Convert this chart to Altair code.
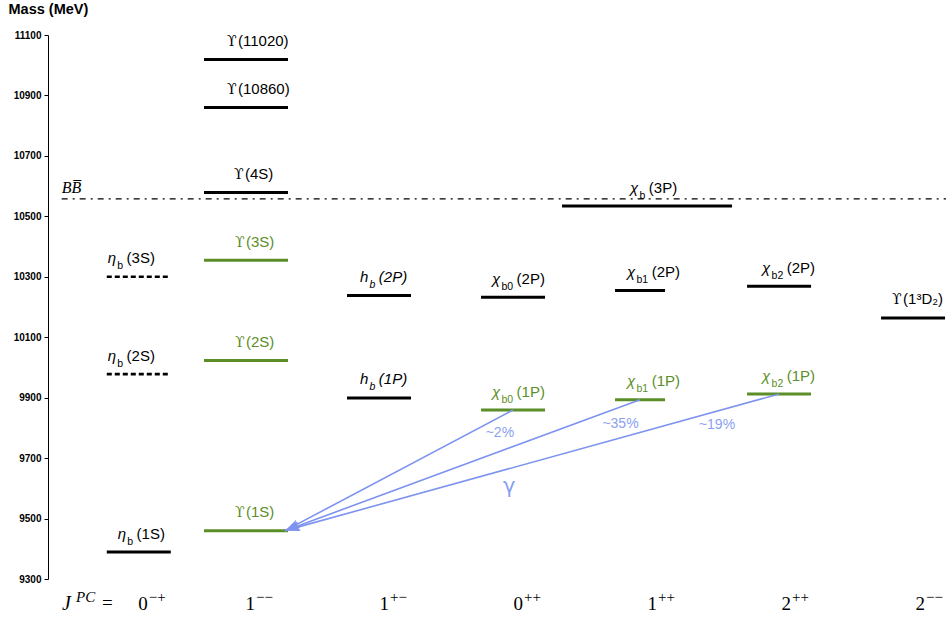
import math

import altair as alt
import pandas as pd

# ---------------------------------------------------------------- data
# Bottomonium levels: symbol, subscript, state tag, J^PC column, mass (MeV), kind
level_symbol = ["η", "η", "η", "ϒ", "ϒ", "ϒ", "ϒ", "ϒ", "ϒ",
                "h", "h", "χ", "χ", "χ", "χ", "χ", "χ", "χ", "ϒ"]
level_sub = ["b", "b", "b", "", "", "", "", "", "",
             "b", "b", "b0", "b0", "b1", "b1", "b2", "b2", "b", ""]
level_tag = ["(1S)", "(2S)", "(3S)", "(1S)", "(2S)", "(3S)", "(4S)", "(10860)", "(11020)",
             "(1P)", "(2P)", "(1P)", "(2P)", "(1P)", "(2P)", "(1P)", "(2P)", "(3P)", "(1³D₂)"]
level_column = [0, 0, 0, 1, 1, 1, 1, 1, 1,
                2, 2, 3, 3, 4, 4, 5, 5, 4, 6]
level_mass = [9389, 9978, 10300, 9460, 10023, 10355, 10579, 10860, 11019,
              9899, 10238, 9859, 10232, 9893, 10255, 9912, 10269, 10534, 10164]
level_kind = ["observed", "predicted", "predicted", "radiative", "radiative", "radiative",
              "observed", "observed", "observed", "observed", "observed",
              "radiative", "observed", "radiative", "observed", "radiative", "observed",
              "observed", "observed"]

# J^PC columns along the bottom
jpc_digit = ["0", "1", "1", "0", "1", "2", "2"]
jpc_sign = ["−+", "−−", "+−", "++", "++", "++", "−−"]
jpc_position = [0.2, 1, 2, 3, 4, 5, 6]

# E1 photon transitions chi_bJ(1P) -> Upsilon(1S) gamma
transition_from = ["χb0(1P)", "χb1(1P)", "χb2(1P)"]
transition_to = "ϒ(1S)"
transition_fraction = ["~2%", "~35%", "~19%"]
fraction_x = [2.79, 3.69, 4.41]
fraction_mass = [9783, 9813, 9810]
photon_label = "γ"
photon_x = 2.86
photon_mass = 9604

# B Bbar open-flavour threshold
threshold_mass = 10558
threshold_label = "BB\u0305"
threshold_start = -0.48

# ---------------------------------------------------------------- layout / style
W, H = 898, 544
X_DOMAIN = [-0.582, 6.119]
Y_DOMAIN = [9300, 11100]
PX_PER_COL = W / (X_DOMAIN[1] - X_DOMAIN[0])
PX_PER_MEV = H / (Y_DOMAIN[1] - Y_DOMAIN[0])

GREEN = "#5b8e27"
ARROW = "#7d93ef"
ARROW_TEXT = "#8b9ff0"
SANS = "Liberation Sans"
SERIF = "Liberation Serif"
GREEK = "DejaVu Serif"

# bar width and horizontal shift of the bars in each J^PC column (px)
COL_WIDTH_PX = [64, 84, 64, 64, 50, 64, 64]
COL_SHIFT_PX = [-14, -14, -15, -15, -22, -17, -17]
WIDE_BAR = {"χb(3P)": (170, -15)}

# label start measured from the left end of its bar (px)
LABEL_INSET_PX = {"η": 1, "h": 13, "χ": 12, "ϒ": 31}
LABEL_INSET_OVERRIDE = {"ηb(1S)": 11, "ϒ(10860)": 23, "ϒ(11020)": 23, "ϒ(4S)": 30,
                        "χb0(1P)": 11, "χb0(2P)": 11, "χb2(1P)": 15, "χb2(2P)": 15,
                        "χb(3P)": 68, "ϒ(1³D₂)": 11}


def px(v):
    return v / PX_PER_COL


rows = []
for sym, sub, tag, col, mass, kind in zip(level_symbol, level_sub, level_tag,
                                          level_column, level_mass, level_kind):
    name = sym + sub + tag
    width, shift = WIDE_BAR.get(name, (COL_WIDTH_PX[col], COL_SHIFT_PX[col]))
    center = jpc_position[col] + px(shift)
    rows.append(dict(name=name, sym=sym, sub=sub, tag=tag, kind=kind, mass=mass,
                     x=center - px(width) / 2, x_end=center + px(width) / 2, xc=center))
levels = pd.DataFrame(rows)

# label pieces: symbol, subscript, state tag
parts = []
for r in rows:
    inset = LABEL_INSET_OVERRIDE.get(r["name"], LABEL_INSET_PX[r["sym"]])
    x0 = r["x"] + px(inset)
    if r["sym"] == "ϒ":
        parts.append(dict(x=x0, mass=r["mass"], text=r["sym"], part="upsilon", kind=r["kind"]))
        parts.append(dict(x=x0 + px(11), mass=r["mass"], text=r["tag"], part="tag_upright",
                          kind=r["kind"]))
        continue
    style = "italic" if r["sym"] == "h" else "upright"
    sub_w = 9.5
    parts.append(dict(x=x0, mass=r["mass"], text=r["sym"], part="sym", kind=r["kind"]))
    parts.append(dict(x=x0 + px(sub_w), mass=r["mass"], text=r["sub"],
                      part="sub_" + style, kind=r["kind"]))
    parts.append(dict(x=x0 + px(sub_w + 5.8 * len(r["sub"]) + 3.5), mass=r["mass"],
                      text=r["tag"], part="tag_" + style, kind=r["kind"]))
labels = pd.DataFrame(parts)

by_name = levels.set_index("name")
target = by_name.loc[transition_to]
arrows = []
for src in transition_from:
    s = by_name.loc[src]
    x_tip = target["x_end"] - px(3)
    dx = (x_tip - s["xc"]) * PX_PER_COL
    dy = -(target["mass"] - s["mass"]) * PX_PER_MEV
    angle = math.degrees(math.atan2(dx, -dy)) % 360
    arrows.append(dict(x=s["xc"], mass=s["mass"], x_end=x_tip, mass_end=target["mass"], angle=angle))
arrows = pd.DataFrame(arrows)
heads = arrows.assign(x=arrows["x_end"], mass=arrows["mass_end"])

fractions = pd.DataFrame(dict(x=fraction_x, mass=fraction_mass, text=transition_fraction))
photon = pd.DataFrame(dict(x=[photon_x], mass=[photon_mass], text=[photon_label]))
threshold = pd.DataFrame(dict(x=[threshold_start], x_end=[X_DOMAIN[1]], mass=[threshold_mass],
                              text=[threshold_label]))
jpc = pd.DataFrame(dict(x=jpc_position, digit=jpc_digit, sign=jpc_sign))

# ---------------------------------------------------------------- encodings
X = alt.X("x:Q", scale=alt.Scale(domain=X_DOMAIN, nice=False, zero=False), axis=None)
Y = alt.Y("mass:Q", scale=alt.Scale(domain=Y_DOMAIN, nice=False, zero=False),
          axis=alt.Axis(values=list(range(9300, 11101, 200)), format="d", grid=False,
                        labelFont=SANS, labelFontWeight="bold", labelFontSize=10,
                        labelColor="black", labelPadding=3, tickColor="black", tickSize=4,
                        domainColor="black", domainWidth=1,
                        title="Mass (MeV)", titleAngle=0, titleAlign="left",
                        titleBaseline="alphabetic", titleX=-40, titleY=-22,
                        titleFont=SANS, titleFontSize=14.5, titleFontWeight="bold",
                        titleColor="black"))
KIND_COLOR = alt.Color("kind:N", legend=None,
                       scale=alt.Scale(domain=["observed", "predicted", "radiative"],
                                       range=["black", "black", GREEN]))

base_levels = alt.Chart(levels)
solid = base_levels.transform_filter("datum.kind != 'predicted'").mark_rule(strokeWidth=3).encode(
    x=X, x2="x_end:Q", y=Y, color=KIND_COLOR)
dashed = base_levels.transform_filter("datum.kind == 'predicted'").mark_rule(
    strokeWidth=2.6, strokeDash=[5, 3]).encode(x=X, x2="x_end:Q", y=Y, color=KIND_COLOR)

threshold_line = alt.Chart(threshold).mark_rule(
    strokeWidth=1.3, strokeDash=[6, 5, 2, 5], color="black").encode(x=X, x2="x_end:Q", y=Y)
threshold_text = alt.Chart(threshold).mark_text(
    align="left", baseline="alphabetic", dy=-6, font=SERIF, fontSize=16,
    fontStyle="italic", color="black").encode(x=X, y=Y, text="text:N")


def label_layer(part, size, dy, italic, font=SANS):
    return alt.Chart(labels).transform_filter(f"datum.part == '{part}'").mark_text(
        align="left", baseline="alphabetic", dy=dy, font=font, fontSize=size,
        fontStyle="italic" if italic else "normal").encode(
        x=X, y=Y, text="text:N", color=KIND_COLOR)


label_layers = [
    label_layer("sym", 15, -13.5, True),
    label_layer("upsilon", 14, -13.5, False, GREEK),
    label_layer("sub_upright", 10.5, -7.5, False),
    label_layer("sub_italic", 10.5, -7.5, True),
    label_layer("tag_upright", 15, -13.5, False),
    label_layer("tag_italic", 15, -13.5, True),
]

arrow_lines = alt.Chart(arrows).mark_rule(strokeWidth=1.6, color=ARROW).encode(
    x=X, x2="x_end:Q", y=Y, y2="mass_end:Q")
arrow_heads = alt.Chart(heads).mark_point(
    shape="M0,0L0.6,2L0,1.55L-0.6,2Z", size=225, filled=True, opacity=1,
    color=ARROW, strokeWidth=0).encode(x=X, y=Y, angle=alt.Angle("angle:Q", scale=None))

fraction_text = alt.Chart(fractions).mark_text(
    align="center", baseline="middle", font=SANS, fontSize=14, color=ARROW_TEXT).encode(
    x=X, y=Y, text="text:N")
photon_text = alt.Chart(photon).mark_text(
    align="center", baseline="middle", font="DejaVu Sans", fontSize=21, color=ARROW_TEXT).encode(
    x=X, y=Y, text="text:N")

# J^PC row under the plot
jpc_digits = alt.Chart(jpc).mark_text(
    align="right", baseline="alphabetic", dx=-5, font=SERIF, fontSize=19, color="black").encode(
    x=X, y=alt.value(H + 31), text="digit:N")
jpc_signs = alt.Chart(jpc).mark_text(
    align="left", baseline="alphabetic", dx=-4, font=SERIF, fontSize=15, color="black").encode(
    x=X, y=alt.value(H + 23), text="sign:N")
header = pd.DataFrame(dict(text=["J", "PC", "="]))
header_j = alt.Chart(header).transform_filter("datum.text == 'J'").mark_text(
    align="left", baseline="alphabetic", font=SERIF, fontSize=20, fontStyle="italic",
    color="black").encode(x=alt.value(14), y=alt.value(H + 31), text="text:N")
header_pc = alt.Chart(header).transform_filter("datum.text == 'PC'").mark_text(
    align="left", baseline="alphabetic", font=SERIF, fontSize=15, fontStyle="italic",
    color="black").encode(x=alt.value(28), y=alt.value(H + 23), text="text:N")
header_eq = alt.Chart(header).transform_filter("datum.text == '='").mark_text(
    align="left", baseline="alphabetic", font=SERIF, fontSize=19,
    color="black").encode(x=alt.value(54), y=alt.value(H + 30), text="text:N")

chart = alt.layer(
    threshold_line, threshold_text, dashed, solid, *label_layers,
    arrow_lines, arrow_heads, fraction_text, photon_text,
    jpc_digits, jpc_signs, header_j, header_pc, header_eq,
).properties(
    width=W, height=H,
    padding={"left": 48, "top": 35, "right": 0, "bottom": 40},
    autosize=alt.AutoSizeParams(type="none"),
    background="white",
).configure_view(stroke=None)

chart.save("out.html", embed_options={"renderer": "svg", "actions": False})
